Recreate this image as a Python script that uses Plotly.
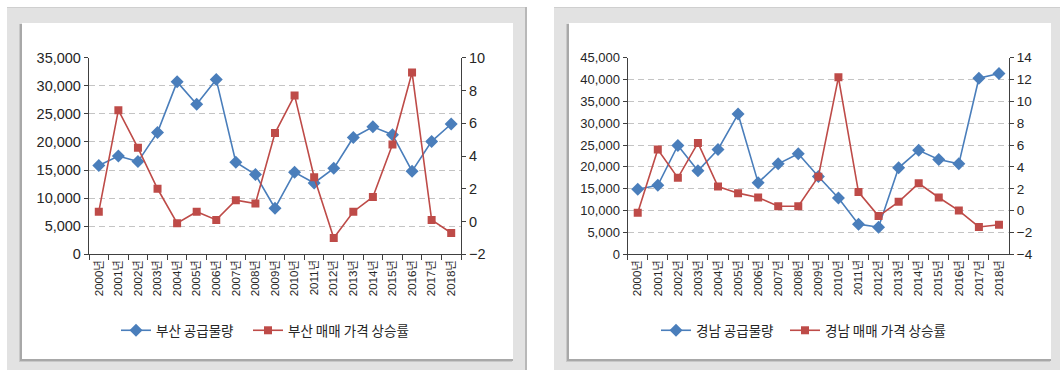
import plotly.graph_objects as go

# ---------------- data ----------------
years = ["2000년", "2001년", "2002년", "2003년", "2004년", "2005년", "2006년", "2007년",
         "2008년", "2009년", "2010년", "2011년", "2012년", "2013년", "2014년", "2015년",
         "2016년", "2017년", "2018년"]

busan_supply = [15800, 17500, 16500, 21700, 30700, 26700, 31100, 16400, 14200, 8200,
                14600, 12700, 15300, 20800, 22700, 21300, 14800, 20100, 23200]
busan_price = [0.6, 6.8, 4.5, 2.0, -0.1, 0.6, 0.1, 1.3, 1.1, 5.4,
               7.7, 2.7, -1.0, 0.6, 1.5, 4.7, 9.1, 0.1, -0.7]

gn_supply = [14900, 15800, 24900, 19100, 24000, 32100, 16400, 20700, 23000, 17800,
             12900, 6900, 6200, 19800, 23800, 21700, 20700, 40300, 41400]
gn_price = [-0.2, 5.6, 3.0, 6.2, 2.2, 1.6, 1.2, 0.4, 0.4, 3.1,
            12.2, 1.7, -0.5, 0.8, 2.5, 1.2, 0.0, -1.5, -1.3]

names_left = ["부산 공급물량", "부산 매매 가격 상승률"]
names_right = ["경남 공급물량", "경남 매매 가격 상승률"]

# ---------------- style ----------------
W, H = 1060, 370
BLUE = "#4A7EBB"
RED = "#BE4B48"
AXIS = "#404040"
TXT = "#262626"
GRID = "#c4c4c4"
F_REG = "Liberation Sans, Arial, Noto Sans CJK KR, sans-serif"
F_NAR = "Liberation Sans Narrow, Arial Narrow, Liberation Sans, sans-serif"
F_KR = "Noto Sans CJK KR, sans-serif"


def px(x):
    return x / W


def py(y):
    return 1 - y / H


fig = go.Figure()

line_w = 1.6
fig.add_trace(go.Scatter(x=years, y=busan_supply, name=names_left[0], mode="lines+markers",
                         line=dict(color=BLUE, width=line_w),
                         marker=dict(symbol="diamond", size=10, color=BLUE),
                         xaxis="x", yaxis="y", legend="legend", legendwidth=87))
fig.add_trace(go.Scatter(x=years, y=busan_price, name=names_left[1], mode="lines+markers",
                         line=dict(color=RED, width=line_w),
                         marker=dict(symbol="square", size=8, color=RED),
                         xaxis="x", yaxis="y2", legend="legend", legendwidth=125))
fig.add_trace(go.Scatter(x=years, y=gn_supply, name=names_right[0], mode="lines+markers",
                         line=dict(color=BLUE, width=line_w),
                         marker=dict(symbol="diamond", size=10, color=BLUE),
                         xaxis="x2", yaxis="y3", legend="legend2", legendwidth=84))
fig.add_trace(go.Scatter(x=years, y=gn_price, name=names_right[1], mode="lines+markers",
                         line=dict(color=RED, width=line_w),
                         marker=dict(symbol="square", size=8, color=RED),
                         xaxis="x2", yaxis="y4", legend="legend2", legendwidth=125))

ydom = [py(254.3), py(57.7)]
xdom_l = [px(89), px(461)]
xdom_r = [px(627.7), px(1009)]

xcommon = dict(type="category", range=[-0.5, 18.5], showline=True, linecolor=AXIS, linewidth=1.3,
               ticks="outside", tickson="boundaries", ticklen=5, tickcolor=AXIS, tickwidth=1.2,
               tickangle=-90, tickfont=dict(family=F_REG, size=11.5, color=TXT), showgrid=False,
               fixedrange=True, automargin=False)
ycommon = dict(showline=True, linecolor=AXIS, linewidth=1.3, ticks="outside", ticklen=4,
               tickcolor=AXIS, tickwidth=1.2, zeroline=False, fixedrange=True, automargin=False)

legcommon = dict(orientation="h", yanchor="middle", xanchor="center",
                 bgcolor="rgba(0,0,0,0)", font=dict(family=F_KR, size=13.5, color=TXT),
                 itemclick=False, itemdoubleclick=False)

fig.update_layout(
    width=W, height=H, autosize=False,
    margin=dict(l=0, r=0, t=0, b=0, autoexpand=False),
    paper_bgcolor="white", plot_bgcolor="rgba(0,0,0,0)",
    hovermode=False,
    xaxis=dict(domain=xdom_l, anchor="y", **xcommon),
    xaxis2=dict(domain=xdom_r, anchor="y3", **xcommon),
    yaxis=dict(domain=ydom, anchor="x", range=[0, 35000], dtick=5000, tickformat=",",
               showgrid=True, gridcolor=GRID, gridwidth=1, griddash="6px,4px",
               tickfont=dict(family=F_REG, size=14.5, color=TXT), **ycommon),
    yaxis2=dict(domain=ydom, anchor="x", overlaying="y", side="right", range=[-2, 10], dtick=2,
                showgrid=False, tickfont=dict(family=F_REG, size=14.5, color=TXT), **ycommon),
    yaxis3=dict(domain=ydom, anchor="x2", range=[0, 45000], dtick=5000, tickformat=",",
                showgrid=True, gridcolor=GRID, gridwidth=1, griddash="6px,4px",
                tickfont=dict(family=F_NAR, size=13, color=TXT), **ycommon),
    yaxis4=dict(domain=ydom, anchor="x2", overlaying="y3", side="right", range=[-4, 14], dtick=2,
                showgrid=False, tickfont=dict(family=F_NAR, size=13.5, color=TXT), **ycommon),
    legend=dict(x=px(267), y=py(330.5), **legcommon),
    legend2=dict(x=px(805.5), y=py(330.5), **legcommon),
    showlegend=True,
)

# ---------------- panel backgrounds ----------------
shapes = []


def rect(x0, y0, x1, y1, color):
    shapes.append(dict(type="rect", xref="paper", yref="paper", layer="below",
                       x0=px(x0), x1=px(x1), y0=py(y1), y1=py(y0),
                       fillcolor=color, line=dict(width=0)))


GRAY = "#e2e2e2"
# left panel
rect(7, 7, 527, 370, GRAY)
rect(7, 7, 527, 8, "#cfcfcf")
rect(525, 7, 527, 370, "#b8b8b8")
rect(19, 24, 512, 362, "#c8c8c8")
rect(20, 24, 513, 361, "#a8a8a8")
rect(22, 23, 513, 359, "white")
# right panel
rect(554, 7, 1060, 370, GRAY)
rect(554, 7, 1060, 8, "#cfcfcf")
rect(566, 24, 1050, 362, "#c8c8c8")
rect(567, 24, 1051, 361, "#a8a8a8")
rect(569, 23, 1051, 359, "white")

fig.update_layout(shapes=shapes)

fig.write_html("out.html")
